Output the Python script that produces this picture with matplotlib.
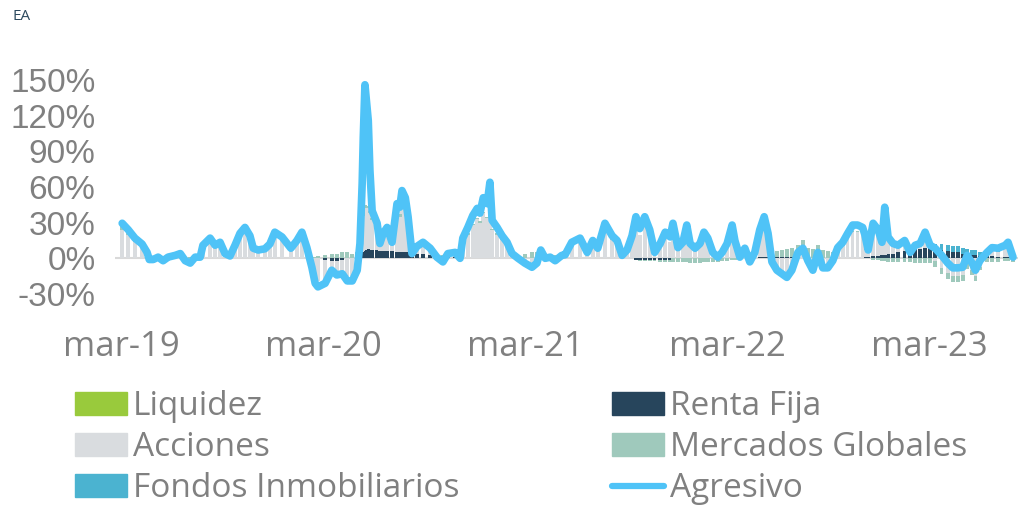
import numpy as np
import pandas as pd
import matplotlib
matplotlib.use('Agg')
import matplotlib.pyplot as plt
from matplotlib.patches import Patch
from matplotlib.lines import Line2D

# fechas de muestreo
fechas = pd.to_datetime([
    # 2019
    '2019-03-03', '2019-03-14', '2019-03-26', '2019-04-08', '2019-04-17', '2019-04-21', '2019-04-28', '2019-05-07',
    '2019-05-16', '2019-05-25', '2019-06-07', '2019-06-16', '2019-06-25', '2019-07-04', '2019-07-13', '2019-07-22',
    '2019-07-27', '2019-08-09', '2019-08-18', '2019-08-27', '2019-09-05', '2019-09-14', '2019-09-23', '2019-10-02',
    '2019-10-11', '2019-10-20', '2019-10-26', '2019-11-04', '2019-11-16', '2019-11-25', '2019-12-04', '2019-12-17',
    # 2020
    '2020-01-02', '2020-01-13', '2020-01-22', '2020-01-31', '2020-02-09', '2020-02-15', '2020-02-20', '2020-03-04',
    '2020-03-16', '2020-03-25', '2020-04-04', '2020-04-13', '2020-04-22', '2020-05-01', '2020-05-06', '2020-05-10',
    '2020-05-12', '2020-05-15', '2020-05-21', '2020-05-24', '2020-05-28', '2020-06-06', '2020-06-11', '2020-06-17',
    '2020-06-24', '2020-07-03', '2020-07-12', '2020-07-17', '2020-07-21', '2020-07-27', '2020-08-01', '2020-08-08',
    '2020-08-17', '2020-08-28', '2020-09-10', '2020-09-22', '2020-10-03', '2020-10-12', '2020-10-25', '2020-11-03',
    '2020-11-08', '2020-11-17', '2020-11-26', '2020-12-04', '2020-12-09', '2020-12-15', '2020-12-22', '2020-12-27',
    '2020-12-31',
    # 2021
    '2021-01-09', '2021-01-18', '2021-01-27', '2021-02-05', '2021-02-16', '2021-02-28', '2021-03-13', '2021-03-22',
    '2021-03-29', '2021-04-06', '2021-04-15', '2021-04-24', '2021-05-06', '2021-05-12', '2021-05-24', '2021-06-08',
    '2021-06-21', '2021-07-01', '2021-07-10', '2021-07-23', '2021-08-05', '2021-08-14', '2021-08-23', '2021-09-01',
    '2021-09-10', '2021-09-17', '2021-09-24', '2021-10-03', '2021-10-12', '2021-10-21', '2021-10-31', '2021-11-09',
    '2021-11-18', '2021-11-23', '2021-12-02', '2021-12-11', '2021-12-18', '2021-12-24',
    # 2022
    '2022-01-02', '2022-01-11', '2022-01-18', '2022-01-25', '2022-02-03', '2022-02-12', '2022-02-20', '2022-03-01',
    '2022-03-10', '2022-03-15', '2022-03-24', '2022-04-02', '2022-04-11', '2022-04-20', '2022-04-29', '2022-05-07',
    '2022-05-14', '2022-05-21', '2022-05-30', '2022-06-08', '2022-06-17', '2022-06-26', '2022-07-07', '2022-07-16',
    '2022-07-25', '2022-08-03', '2022-08-12', '2022-08-21', '2022-08-30', '2022-09-08', '2022-09-17', '2022-09-26',
    '2022-10-05', '2022-10-14', '2022-10-23', '2022-11-01', '2022-11-05', '2022-11-11', '2022-11-20', '2022-11-29',
    '2022-12-06', '2022-12-11', '2022-12-17', '2022-12-26',
    # 2023
    '2023-01-04', '2023-01-16', '2023-01-26', '2023-02-04', '2023-02-13', '2023-02-22', '2023-03-03', '2023-03-12',
    '2023-03-24', '2023-04-04', '2023-04-13', '2023-04-22', '2023-05-01', '2023-05-09', '2023-05-18', '2023-05-24',
    '2023-06-01', '2023-06-14', '2023-06-23', '2023-07-04', '2023-07-17', '2023-07-22', '2023-07-31',
])

# línea Agresivo (%)
agresivo = [
    29.5, 24, 17, 12, 5, -1, -1, 1, -2, 1, 2.5, 4, -2, -4, 1, 1,
    11, 17, 11, 13.5, 4, 2, 11, 21, 26, 19, 8.5, 7, 8, 12, 22, 18,
    8.5, 15, 22, 9, -7.5, -21, -24, -21, -10, -14, -13, -19, -19, -10, 12.5, 63,
    102, 146, 116, 74, 40, 29.5, 12.5, 21, 26, 13.5, 46, 43, 57, 51, 35, 4,
    10, 13.5, 8.5, 1, -3, 4, 5, 0, 17, 26, 36, 42, 38, 51, 46, 64, 32,
    26, 19, 13.5, 4, 0, -4, -7.5, -4, 7, 0, 1, -2, 2.5, 3, 13.5, 17,
    5, 15, 8.5, 29.5, 19, 15, 2.5, 7, 19, 35, 25, 35, 24, 5, 12.5, 22,
    18, 29.5, 9, 13.5, 28, 12.5,
    8.5, 12.5, 22, 17, 5, 1, 5, 12.5, 28, 15, 1, 8.5, -3, 5, 24, 35,
    21, -3, -10, -13, -16, -10, 5, 8.5, -2, -10, 5, -8, -8, -2, 9, 13.5,
    21, 28, 28, 26, 20, 7, 29.5, 24, 13.5, 43, 18, 12.5,
    11, 15, 5, 11, 12.5, 22, 11, 8.5, 2.5, -4, -8, -8, -7.5, 2.5, -4, -10,
    -2, 5, 9, 8.5, 11, 13.5, 1,
]

# contribuciones por activo (barras apiladas, %)
liquidez = [0] * len(fechas)  # plana en cero en todo el periodo

renta_fija = [0] * 39 + [
    -1, -2, -2, -1, 0, 0, 1, 3, 5, 6, 7, 8, 8, 7, 7, 6, 6, 6, 6, 5, 5, 5, 5, 5, 4, 4, 4, 3, 2, 2, 1, 1,
] + [0] * 35 + [
    -1, -1, -1, -1, -1, -1, -1, -1, 0, 0, 0, 0, 0,
] + [0] * 14 + [1, 1, 1, 1, 1, 1, 1, 1] + [0] * 14 + [1, 1, 2, 2, 3, 3, 4, 4] + [
    5, 6, 7, 8, 8, 9, 9, 8, 7, 6, 5, 5, 4, 4, 3, 3, 2, 2, 2, 1, 1, 1, 1,
]

acciones = [
    24, 20, 14, 10, 4, -3, -4, -1, -5, -2, 1, 2, -4, -6, -1, 0,
    9, 14, 9, 11, 3, 1, 9, 17, 21, 16, 7, 5, 6, 10, 18, 15,
    7, 12, 18, 7, -7, -17, -19, -17, -9, -12, -11, -15, -15, -8, 6, 20,
    30, 35, 34, 30, 25, 20, 8, 14, 18, 9, 32, 30, 38, 34, 24, 2,
    6, 9, 5, 0, -4, 2, 3, -1, 12, 20, 28, 33, 30, 38, 34, 42, 24,
    20, 15, 10, 3, -1, -4, -6, -4, 4, -1, 0, -2, 1, 2, 10, 13,
    4, 12, 7, 23, 15, 12, 2, 5, 15, 27, 20, 27, 19, 4, 10, 17,
    14, 23, 7, 10, 22, 10,
    6, 10, 17, 13, 3, 0, 3, 10, 22, 12, 0, 6, -4, 3, 19, 27,
    16, -4, -10, -12, -14, -9, 3, 6, -3, -9, 3, -7, -7, -2, 6, 10,
    16, 22, 22, 20, 15, 5, 22, 18, 10, 30, 13, 9,
    5, 7, 0, 3, 3, 10, 0, -2, -8, -12, -15, -15, -14, -5, -10, -15,
    -7, 0, 4, 4, 7, 10, -1,
]

mercados_globales = [
    3, 3, 3, 2, 2, 2, 2, 2, 2, 2, 2, 2, 1, 1, 1, 1,
    1, 2, 2, 2, 1, 1, 1, 2, 2, 2, 1, 1, 1, 1, 2, 2,
    2, 2, 2, 2, 1, 1, 2, 3, 4, 4, 5, 5, 4, 4, 3, 3,
    3, 3, 2, 2, 2, 2, 2, 2, 2, 2, 2, 2, 2, 2, 2, 2,
    2, 2, 2, 1, 1, 1, 1, 1, 1, 1, 1, 1, 1, 1, 1, 1, 1,
    1, 1, 1, 2, 3, 4, 5, 5, 4, 4, 4, 3, 3, 3, 2, 2,
    2, 1, 1, 1, 1, 0, 0, 0, 0, 0, -1, -1, -1, -1, -2, -2,
    -2, -3, -3, -3, -3, -4,
    -4, -4, -3, -3, -3, -3, -2, -2, -1, -1, 0, 0, 1, 1, 2, 3,
    3, 4, 5, 6, 7, 8, 8, 9, 9, 8, 8, 7, 6, 5, 4, 3,
    2, 1, 1, 0, 0, 0, -1, -1, -2, -2, -3, -3,
    -3, -3, -3, -4, -4, -4, -4, -5, -5, -5, -5, -5, -5, -4, -4, -4,
    -3, -3, -3, -3, -2, -2, -2,
]

fondos_inmobiliarios = [0] * 163 + [
    0, 0, 1, 1, 2, 2, 3, 4, 5, 5, 5, 5, 5, 4, 4, 4, 3, 3, 2, 2, 1, 1, 1,
]

ticks_x = pd.to_datetime(['2019-03-01', '2020-03-01', '2021-03-01', '2022-03-01', '2023-03-01'])
etiquetas_x = ['mar-19', 'mar-20', 'mar-21', 'mar-22', 'mar-23']
ticks_y = [-30, 0, 30, 60, 90, 120, 150]

series = [
    ('Liquidez', liquidez, '#99ca3c'),
    ('Renta Fija', renta_fija, '#27455c'),
    ('Acciones', acciones, '#d9dcdf'),
    ('Mercados Globales', mercados_globales, '#9fc9bc'),
    ('Fondos Inmobiliarios', fondos_inmobiliarios, '#4bb3d0'),
]
color_linea = '#4fc3f7'
gris = '#808080'

fig = plt.figure(figsize=(10.25, 5.05), dpi=100)
ax = fig.add_axes([115 / 1025, 1 - 294 / 505, (1018 - 115) / 1025, (294 - 80) / 505])

# barras apiladas (positivas y negativas por separado)
pos = np.zeros(len(fechas))
neg = np.zeros(len(fechas))
for nombre, vals, color in series:
    v = np.array(vals, dtype=float)
    base = np.where(v >= 0, pos, neg)
    ax.bar(fechas, v, bottom=base, width=6.5, color=color, linewidth=0, zorder=2)
    pos += np.clip(v, 0, None)
    neg += np.clip(v, None, 0)

ax.axhline(0, color='#d9d9d9', linewidth=1.5, zorder=1)
ax.plot(fechas, agresivo, color=color_linea, linewidth=5.5,
        solid_joinstyle='round', solid_capstyle='round', zorder=3, clip_on=False)

ax.set_xlim(pd.Timestamp('2019-02-18'), pd.Timestamp('2023-08-09'))
ax.set_ylim(-30, 150)
ax.set_yticks(ticks_y)
ax.set_yticklabels([f'{t}%' for t in ticks_y], fontsize=24, color=gris, family='Liberation Sans')
ax.set_xticks(ticks_x)
ax.set_xticklabels(etiquetas_x, fontsize=25, color=gris, family='Open Sans')
ax.tick_params(axis='y', length=0, pad=14)
ax.tick_params(axis='x', length=0, pad=26)
for s in ax.spines.values():
    s.set_visible(False)

# leyenda en dos columnas
h_izq = [Patch(color=series[0][2]), Patch(color=series[2][2]), Patch(color=series[4][2])]
l_izq = [series[0][0], series[2][0], series[4][0]]
h_der = [Patch(color=series[1][2]), Patch(color=series[3][2]),
         Line2D([], [], color=color_linea, linewidth=4.5, solid_capstyle='round')]
l_der = [series[1][0], series[3][0], 'Agresivo']
kw = dict(frameon=False, labelcolor=gris, handlelength=1.56, handleheight=0.66,
          handletextpad=0.18, labelspacing=0.24, borderpad=0, borderaxespad=0, loc='upper left',
          prop={'family': 'Open Sans', 'size': 24})
fig.legend(h_izq, l_izq, bbox_to_anchor=(75 / 1025, 1 - 390 / 505), **kw)
fig.legend(h_der, l_der, bbox_to_anchor=(612 / 1025, 1 - 390 / 505), **kw)

fig.text(12 / 1025, 1 - 17 / 505, 'EA', fontsize=11, color='#2d4a5e', va='center', family='Open Sans')

fig.savefig('out.png', dpi=100)
